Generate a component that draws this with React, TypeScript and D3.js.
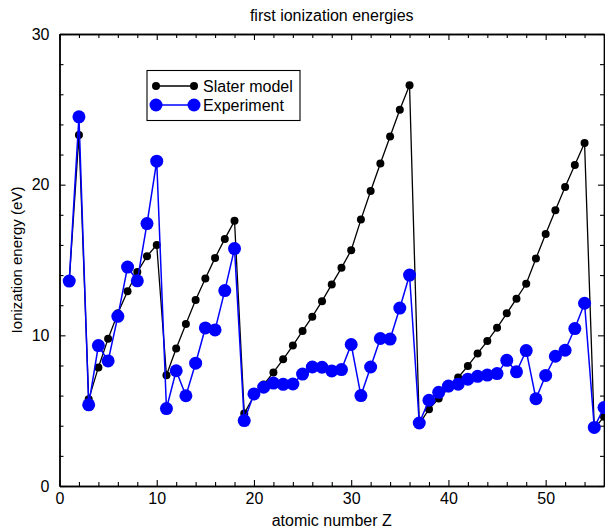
import React, { useEffect, useRef } from "react";
import * as d3 from "d3";

const Z: number[] = d3.range(1, 57);
const slater: number[] = [
  13.6, 23.3, 5.75, 7.87, 9.78, 11.46, 12.93, 14.2, 15.25, 16.0,
  7.35, 9.12, 10.75, 12.34, 13.77, 15.14, 16.4, 17.6,
  4.82, 5.97, 6.73, 7.54, 8.41, 9.32, 10.29, 11.24, 12.27, 13.38, 14.48, 15.65,
  17.68, 19.58, 21.4, 23.2, 24.97, 26.6,
  4.11, 5.1, 5.81, 6.49, 7.2, 7.97, 8.8, 9.62, 10.5, 11.46, 12.43, 13.42,
  15.1, 16.73, 18.3, 19.85, 21.3, 22.76,
  3.8, 4.6,
];
const experiment: number[] = [
  13.6, 24.5, 5.39, 9.32, 8.3, 11.26, 14.53, 13.62, 17.42, 21.56,
  5.14, 7.65, 5.99, 8.15, 10.49, 10.36, 12.97, 15.76,
  4.34, 6.11, 6.56, 6.83, 6.75, 6.77, 7.43, 7.9, 7.88, 7.64, 7.73, 9.39,
  6.0, 7.9, 9.79, 9.75, 11.81, 14.0,
  4.18, 5.69, 6.22, 6.63, 6.76, 7.09, 7.28, 7.36, 7.46, 8.34, 7.58, 8.99,
  5.79, 7.34, 8.61, 9.01, 10.45, 12.13,
  3.89, 5.21,
];
const xMajor: number[] = [0, 10, 20, 30, 40, 50];
const yMajor: number[] = [0, 10, 20, 30];
const seriesNames: string[] = ["Slater model", "Experiment"];

const W = 605;
const H = 532;
const FONT = "Arial, 'Liberation Sans', Helvetica, sans-serif";

export default function App() {
  const ref = useRef<SVGSVGElement | null>(null);

  useEffect(() => {
    document.body.style.margin = "0";
    const svg = d3.select(ref.current);
    svg.selectAll("*").remove();

    const x = d3.scaleLinear().domain([0, 56]).range([59.5, 604]);
    const y = d3.scaleLinear().domain([0, 30]).range([486, 34]);

    const xMinor = d3.range(0, 57, 2).filter((v) => v % 10 !== 0);
    const yMinor = d3.range(0, 31, 2).filter((v) => v % 10 !== 0);

    const styleAxis = (g: any, labels: boolean) => {
      g.selectAll("path").attr("stroke", "#000").attr("stroke-width", 1.4);
      g.selectAll("line").attr("stroke", "#000").attr("stroke-width", 1.1);
      g.selectAll("text")
        .attr("font-family", FONT)
        .attr("font-size", 16)
        .attr("fill", "#000");
      if (!labels) g.selectAll("text").remove();
    };

    // bottom
    const gb = svg.append("g").attr("transform", `translate(0,${y(0)})`);
    gb.call(d3.axisBottom(x).tickValues(xMajor).tickSizeInner(-6).tickSizeOuter(0).tickPadding(7).tickFormat(d3.format("d")) as any);
    styleAxis(gb, true);
    const gbm = svg.append("g").attr("transform", `translate(0,${y(0)})`);
    gbm.call(d3.axisBottom(x).tickValues(xMinor).tickSizeInner(-4).tickSizeOuter(0).tickFormat(() => "") as any);
    styleAxis(gbm, false);
    // top
    const gt = svg.append("g").attr("transform", `translate(0,${y(30)})`);
    gt.call(d3.axisTop(x).tickValues(xMajor).tickSizeInner(-6).tickSizeOuter(0).tickFormat(() => "") as any);
    styleAxis(gt, false);
    const gtm = svg.append("g").attr("transform", `translate(0,${y(30)})`);
    gtm.call(d3.axisTop(x).tickValues(xMinor).tickSizeInner(-4).tickSizeOuter(0).tickFormat(() => "") as any);
    styleAxis(gtm, false);
    // left
    const gl = svg.append("g").attr("transform", `translate(${x(0)},0)`);
    gl.call(d3.axisLeft(y).tickValues(yMajor).tickSizeInner(-6).tickSizeOuter(0).tickPadding(10).tickFormat(d3.format("d")) as any);
    styleAxis(gl, true);
    const glm = svg.append("g").attr("transform", `translate(${x(0)},0)`);
    glm.call(d3.axisLeft(y).tickValues(yMinor).tickSizeInner(-4).tickSizeOuter(0).tickFormat(() => "") as any);
    styleAxis(glm, false);
    // right
    const gr = svg.append("g").attr("transform", `translate(${x(56)},0)`);
    gr.call(d3.axisRight(y).tickValues(yMajor).tickSizeInner(-6).tickSizeOuter(0).tickFormat(() => "") as any);
    styleAxis(gr, false);
    const grm = svg.append("g").attr("transform", `translate(${x(56)},0)`);
    grm.call(d3.axisRight(y).tickValues(yMinor).tickSizeInner(-4).tickSizeOuter(0).tickFormat(() => "") as any);
    styleAxis(grm, false);

    // data
    const line = d3
      .line<number>()
      .x((_, i) => x(Z[i]))
      .y((d) => y(d));

    const plot = svg.append("g");
    plot.append("path").attr("d", line(slater) as string).attr("fill", "none").attr("stroke", "#000").attr("stroke-width", 1.3);
    plot.selectAll("circle.s").data(slater).enter().append("circle")
      .attr("cx", (_, i) => x(Z[i])).attr("cy", (d) => y(d)).attr("r", 4).attr("fill", "#000");
    plot.append("path").attr("d", line(experiment) as string).attr("fill", "none").attr("stroke", "#0000ff").attr("stroke-width", 1.5);
    plot.selectAll("circle.e").data(experiment).enter().append("circle")
      .attr("cx", (_, i) => x(Z[i])).attr("cy", (d) => y(d)).attr("r", 6.5).attr("fill", "#0000ff");

    // legend
    const lg = svg.append("g");
    lg.append("rect").attr("x", 147).attr("y", 70.5).attr("width", 153).attr("height", 50)
      .attr("fill", "#fff").attr("stroke", "#000").attr("stroke-width", 1.1);
    const rows = [
      { name: seriesNames[0], color: "#000", r: 4, yy: 86, sw: 1.3 },
      { name: seriesNames[1], color: "#0000ff", r: 6.5, yy: 105, sw: 1.5 },
    ];
    rows.forEach((rw) => {
      lg.append("line").attr("x1", 156).attr("x2", 194).attr("y1", rw.yy).attr("y2", rw.yy)
        .attr("stroke", rw.color).attr("stroke-width", rw.sw);
      lg.append("circle").attr("cx", 156).attr("cy", rw.yy).attr("r", rw.r).attr("fill", rw.color);
      lg.append("circle").attr("cx", 194).attr("cy", rw.yy).attr("r", rw.r).attr("fill", rw.color);
      lg.append("text").attr("x", 203).attr("y", rw.yy).attr("dy", "0.36em")
        .attr("font-family", FONT).attr("font-size", 16).attr("fill", "#000").text(rw.name);
    });

    // titles
    svg.append("text").attr("x", (x(0) + x(56)) / 2).attr("y", 21).attr("text-anchor", "middle")
      .attr("font-family", FONT).attr("font-size", 16).attr("fill", "#000").text("first ionization energies");
    svg.append("text").attr("x", (x(0) + x(56)) / 2).attr("y", 526).attr("text-anchor", "middle")
      .attr("font-family", FONT).attr("font-size", 16).attr("fill", "#000").text("atomic number Z");
    svg.append("text").attr("transform", `translate(22,${(y(0) + y(30)) / 2}) rotate(-90)`)
      .attr("text-anchor", "middle")
      .attr("font-family", FONT).attr("font-size", 15).attr("fill", "#000").text("Ionization energy (eV)");
  }, []);

  return (
    <svg ref={ref} width={W} height={H} style={{ position: "absolute", left: 0, top: 0, background: "#fff" }} />
  );
}
